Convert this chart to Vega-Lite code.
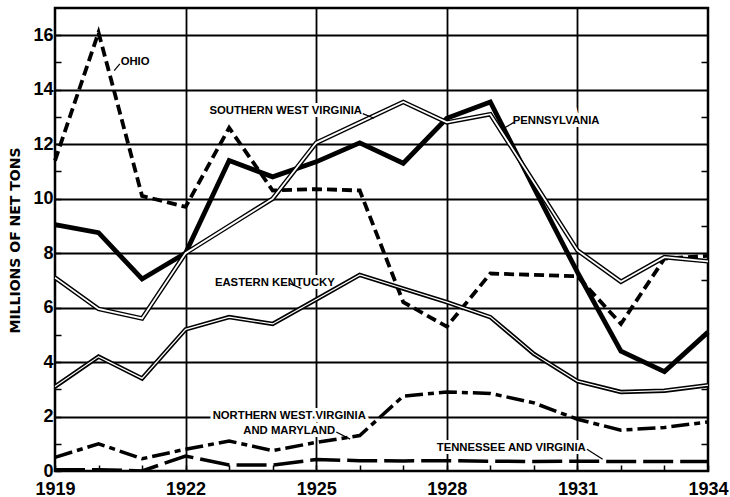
{
  "$schema": "https://vega.github.io/schema/vega-lite/v6.json",
  "width": 653,
  "height": 463,
  "autosize": {"type": "none"},
  "padding": {"left": 55, "top": 8, "right": 22, "bottom": 26},
  "background": "white",
  "config": {
    "view": {"stroke": "black", "strokeWidth": 2.5},
    "axis": {"domain": false, "gridColor": "black", "tickColor": "black", "labelColor": "black"}
  },
  "datasets": {
    "series": [
      {"year": 1919, "value": 11.4, "series": "Ohio"},
      {"year": 1920, "value": 16.1, "series": "Ohio"},
      {"year": 1921, "value": 10.1, "series": "Ohio"},
      {"year": 1922, "value": 9.7, "series": "Ohio"},
      {"year": 1923, "value": 12.6, "series": "Ohio"},
      {"year": 1924, "value": 10.3, "series": "Ohio"},
      {"year": 1925, "value": 10.35, "series": "Ohio"},
      {"year": 1926, "value": 10.3, "series": "Ohio"},
      {"year": 1927, "value": 6.2, "series": "Ohio"},
      {"year": 1928, "value": 5.3, "series": "Ohio"},
      {"year": 1929, "value": 7.25, "series": "Ohio"},
      {"year": 1930, "value": 7.2, "series": "Ohio"},
      {"year": 1931, "value": 7.15, "series": "Ohio"},
      {"year": 1932, "value": 5.4, "series": "Ohio"},
      {"year": 1933, "value": 7.8, "series": "Ohio"},
      {"year": 1934, "value": 7.9, "series": "Ohio"},
      {"year": 1919, "value": 9.05, "series": "Pennsylvania"},
      {"year": 1920, "value": 8.75, "series": "Pennsylvania"},
      {"year": 1921, "value": 7.05, "series": "Pennsylvania"},
      {"year": 1922, "value": 8.0, "series": "Pennsylvania"},
      {"year": 1923, "value": 11.4, "series": "Pennsylvania"},
      {"year": 1924, "value": 10.8, "series": "Pennsylvania"},
      {"year": 1925, "value": 11.35, "series": "Pennsylvania"},
      {"year": 1926, "value": 12.05, "series": "Pennsylvania"},
      {"year": 1927, "value": 11.3, "series": "Pennsylvania"},
      {"year": 1928, "value": 12.95, "series": "Pennsylvania"},
      {"year": 1929, "value": 13.55, "series": "Pennsylvania"},
      {"year": 1930, "value": 10.4, "series": "Pennsylvania"},
      {"year": 1931, "value": 7.3, "series": "Pennsylvania"},
      {"year": 1932, "value": 4.4, "series": "Pennsylvania"},
      {"year": 1933, "value": 3.65, "series": "Pennsylvania"},
      {"year": 1934, "value": 5.1, "series": "Pennsylvania"},
      {"year": 1919, "value": 7.1, "series": "Southern West Virginia"},
      {"year": 1920, "value": 5.95, "series": "Southern West Virginia"},
      {"year": 1921, "value": 5.6, "series": "Southern West Virginia"},
      {"year": 1922, "value": 8.0, "series": "Southern West Virginia"},
      {"year": 1923, "value": 9.0, "series": "Southern West Virginia"},
      {"year": 1924, "value": 10.0, "series": "Southern West Virginia"},
      {"year": 1925, "value": 12.05, "series": "Southern West Virginia"},
      {"year": 1926, "value": 12.8, "series": "Southern West Virginia"},
      {"year": 1927, "value": 13.55, "series": "Southern West Virginia"},
      {"year": 1928, "value": 12.8, "series": "Southern West Virginia"},
      {"year": 1929, "value": 13.1, "series": "Southern West Virginia"},
      {"year": 1930, "value": 10.6, "series": "Southern West Virginia"},
      {"year": 1931, "value": 8.1, "series": "Southern West Virginia"},
      {"year": 1932, "value": 6.95, "series": "Southern West Virginia"},
      {"year": 1933, "value": 7.85, "series": "Southern West Virginia"},
      {"year": 1934, "value": 7.7, "series": "Southern West Virginia"},
      {"year": 1919, "value": 3.1, "series": "Eastern Kentucky"},
      {"year": 1920, "value": 4.2, "series": "Eastern Kentucky"},
      {"year": 1921, "value": 3.4, "series": "Eastern Kentucky"},
      {"year": 1922, "value": 5.2, "series": "Eastern Kentucky"},
      {"year": 1923, "value": 5.65, "series": "Eastern Kentucky"},
      {"year": 1924, "value": 5.4, "series": "Eastern Kentucky"},
      {"year": 1925, "value": 6.3, "series": "Eastern Kentucky"},
      {"year": 1926, "value": 7.2, "series": "Eastern Kentucky"},
      {"year": 1927, "value": 6.7, "series": "Eastern Kentucky"},
      {"year": 1928, "value": 6.2, "series": "Eastern Kentucky"},
      {"year": 1929, "value": 5.65, "series": "Eastern Kentucky"},
      {"year": 1930, "value": 4.3, "series": "Eastern Kentucky"},
      {"year": 1931, "value": 3.3, "series": "Eastern Kentucky"},
      {"year": 1932, "value": 2.9, "series": "Eastern Kentucky"},
      {"year": 1933, "value": 2.95, "series": "Eastern Kentucky"},
      {"year": 1934, "value": 3.15, "series": "Eastern Kentucky"},
      {"year": 1919, "value": 0.5, "series": "Northern West Virginia and Maryland"},
      {"year": 1920, "value": 1.0, "series": "Northern West Virginia and Maryland"},
      {"year": 1921, "value": 0.45, "series": "Northern West Virginia and Maryland"},
      {"year": 1922, "value": 0.8, "series": "Northern West Virginia and Maryland"},
      {"year": 1923, "value": 1.1, "series": "Northern West Virginia and Maryland"},
      {"year": 1924, "value": 0.75, "series": "Northern West Virginia and Maryland"},
      {"year": 1925, "value": 1.05, "series": "Northern West Virginia and Maryland"},
      {"year": 1926, "value": 1.3, "series": "Northern West Virginia and Maryland"},
      {"year": 1927, "value": 2.75, "series": "Northern West Virginia and Maryland"},
      {"year": 1928, "value": 2.9, "series": "Northern West Virginia and Maryland"},
      {"year": 1929, "value": 2.85, "series": "Northern West Virginia and Maryland"},
      {"year": 1930, "value": 2.5, "series": "Northern West Virginia and Maryland"},
      {"year": 1931, "value": 1.9, "series": "Northern West Virginia and Maryland"},
      {"year": 1932, "value": 1.5, "series": "Northern West Virginia and Maryland"},
      {"year": 1933, "value": 1.6, "series": "Northern West Virginia and Maryland"},
      {"year": 1934, "value": 1.8, "series": "Northern West Virginia and Maryland"},
      {"year": 1919, "value": 0.05, "series": "Tennessee and Virginia"},
      {"year": 1920, "value": 0.05, "series": "Tennessee and Virginia"},
      {"year": 1921, "value": 0.0, "series": "Tennessee and Virginia"},
      {"year": 1922, "value": 0.55, "series": "Tennessee and Virginia"},
      {"year": 1923, "value": 0.22, "series": "Tennessee and Virginia"},
      {"year": 1924, "value": 0.22, "series": "Tennessee and Virginia"},
      {"year": 1925, "value": 0.42, "series": "Tennessee and Virginia"},
      {"year": 1926, "value": 0.38, "series": "Tennessee and Virginia"},
      {"year": 1927, "value": 0.37, "series": "Tennessee and Virginia"},
      {"year": 1928, "value": 0.38, "series": "Tennessee and Virginia"},
      {"year": 1929, "value": 0.36, "series": "Tennessee and Virginia"},
      {"year": 1930, "value": 0.35, "series": "Tennessee and Virginia"},
      {"year": 1931, "value": 0.36, "series": "Tennessee and Virginia"},
      {"year": 1932, "value": 0.35, "series": "Tennessee and Virginia"},
      {"year": 1933, "value": 0.35, "series": "Tennessee and Virginia"},
      {"year": 1934, "value": 0.35, "series": "Tennessee and Virginia"}
    ],
    "labels": [
      {"x": 1920.84, "y": 15.0, "text": "OHIO"},
      {"x": 1924.30, "y": 13.2, "text": "SOUTHERN WEST VIRGINIA"},
      {"x": 1930.51, "y": 12.86, "text": "PENNSYLVANIA"},
      {"x": 1924.05, "y": 6.92, "text": "EASTERN KENTUCKY"},
      {"x": 1924.38, "y": 2.01, "text": "NORTHERN WEST VIRGINIA"},
      {"x": 1924.38, "y": 1.47, "text": "AND MARYLAND"},
      {"x": 1929.48, "y": 0.84, "text": "TENNESSEE AND VIRGINIA"}
    ],
    "leaders": [
      {"x": 1920.49, "y": 14.95, "x2": 1920.36, "y2": 14.7},
      {"x": 1926.07, "y": 13.12, "x2": 1926.33, "y2": 12.95},
      {"x": 1929.54, "y": 12.8, "x2": 1929.33, "y2": 12.6},
      {"x": 1924.40, "y": 6.88, "x2": 1924.66, "y2": 6.7},
      {"x": 1925.46, "y": 1.43, "x2": 1925.78, "y2": 1.17},
      {"x": 1931.22, "y": 0.8, "x2": 1931.58, "y2": 0.43}
    ]
  },
  "encoding": {
    "x": {"field": "year", "type": "quantitative"},
    "y": {"field": "value", "type": "quantitative"}
  },
  "layer": [
    {
      "data": {"name": "series"},
      "transform": [{"filter": "datum.series == 'Tennessee and Virginia'"}],
      "mark": {"type": "line", "color": "black", "strokeWidth": 3.5, "strokeDash": [30, 7], "clip": true},
      "encoding": {
        "x": {"field": "year", "type": "quantitative",
          "scale": {"domain": [1919, 1934], "nice": false, "zero": false},
          "axis": {
            "orient": "bottom",
            "values": [1919, 1920, 1921, 1922, 1923, 1924, 1925, 1926, 1927, 1928, 1929, 1930, 1931, 1932, 1933, 1934],
            "format": "d",
            "labelExpr": "(datum.value - 1919) % 3 == 0 ? datum.label : ''",
            "labelFont": "Liberation Sans", "labelFontWeight": "bold", "labelFontSize": 18,
            "labelPadding": 15, "labelFlush": false,
            "tickSize": -6, "tickWidth": 1.5,
            "grid": true, "gridWidth": 1.8,
            "gridOpacity": {"condition": {"test": "datum.value == 1922 || datum.value == 1925 || datum.value == 1928 || datum.value == 1931", "value": 1}, "value": 0},
            "title": null
          }
        },
        "y": {"field": "value", "type": "quantitative",
          "scale": {"domain": [0, 17], "nice": false, "zero": true},
          "axis": {
            "orient": "left",
            "values": [0, 1, 2, 3, 4, 5, 6, 7, 8, 9, 10, 11, 12, 13, 14, 15, 16],
            "labelExpr": "datum.value % 2 == 0 ? datum.label : ''",
            "labelFont": "Liberation Sans", "labelFontWeight": "bold", "labelFontSize": 18,
            "labelPadding": 8, "labelFlush": false,
            "tickSize": -6, "tickWidth": 1.5,
            "grid": true, "gridWidth": 1.8,
            "gridOpacity": {"condition": {"test": "datum.value % 2 == 0 && datum.value > 0", "value": 1}, "value": 0},
            "title": "MILLIONS OF NET TONS",
            "titleFont": "DejaVu Sans", "titleFontWeight": "bold", "titleFontSize": 14,
            "titleAngle": 270, "titleAlign": "center", "titleBaseline": "middle",
            "titleX": -40, "titleY": 232
          }
        }
      }
    },
    {
      "data": {"name": "series"},
      "transform": [{"filter": "datum.series == 'Northern West Virginia and Maryland'"}],
      "mark": {"type": "line", "color": "black", "strokeWidth": 3.5, "strokeDash": [18, 5, 6, 5]},
      "encoding": {
        "y": {"field": "value", "type": "quantitative",
          "axis": {"orient": "right", "values": [1, 3, 5, 7, 9, 11, 13, 15], "labels": false, "grid": false, "ticks": true, "tickSize": -7, "tickWidth": 1.5, "tickColor": "black", "title": null}
        }
      }
    },
    {
      "data": {"name": "labels"},
      "mark": {"type": "text", "font": "Liberation Sans", "fontWeight": "bold", "fontSize": 11.3, "color": "white", "stroke": "white", "strokeWidth": 6, "baseline": "middle", "align": "center"},
      "encoding": {
        "x": {"field": "x", "type": "quantitative"},
        "y": {"field": "y", "type": "quantitative", "axis": null},
        "text": {"field": "text"}
      }
    },
    {
      "data": {"name": "series"},
      "transform": [{"filter": "datum.series == 'Ohio'"}],
      "mark": {"type": "line", "color": "black", "strokeWidth": 3.8, "strokeDash": [10, 5]},
      "encoding": {"y": {"field": "value", "type": "quantitative", "axis": null}}
    },
    {
      "data": {"name": "series"},
      "transform": [{"filter": "datum.series == 'Eastern Kentucky'"}],
      "mark": {"type": "line", "color": "black", "strokeWidth": 4.5},
      "encoding": {"y": {"field": "value", "type": "quantitative", "axis": null}}
    },
    {
      "data": {"name": "series"},
      "transform": [{"filter": "datum.series == 'Eastern Kentucky'"}],
      "mark": {"type": "line", "color": "white", "strokeWidth": 1.2},
      "encoding": {"y": {"field": "value", "type": "quantitative", "axis": null}}
    },
    {
      "data": {"name": "series"},
      "transform": [{"filter": "datum.series == 'Pennsylvania'"}],
      "mark": {"type": "line", "color": "black", "strokeWidth": 4.8},
      "encoding": {"y": {"field": "value", "type": "quantitative", "axis": null}}
    },
    {
      "data": {"name": "series"},
      "transform": [{"filter": "datum.series == 'Southern West Virginia'"}],
      "mark": {"type": "line", "color": "black", "strokeWidth": 4.6},
      "encoding": {"y": {"field": "value", "type": "quantitative", "axis": null}}
    },
    {
      "data": {"name": "series"},
      "transform": [{"filter": "datum.series == 'Southern West Virginia'"}],
      "mark": {"type": "line", "color": "white", "strokeWidth": 1.8},
      "encoding": {"y": {"field": "value", "type": "quantitative", "axis": null}}
    },
    {
      "data": {"name": "leaders"},
      "mark": {"type": "rule", "color": "black", "strokeWidth": 1.2},
      "encoding": {
        "x": {"field": "x", "type": "quantitative"},
        "y": {"field": "y", "type": "quantitative", "axis": null},
        "x2": {"field": "x2"},
        "y2": {"field": "y2"}
      }
    },
    {
      "data": {"name": "labels"},
      "mark": {"type": "text", "font": "Liberation Sans", "fontWeight": "bold", "fontSize": 11.3, "color": "black", "baseline": "middle", "align": "center"},
      "encoding": {
        "x": {"field": "x", "type": "quantitative"},
        "y": {"field": "y", "type": "quantitative", "axis": null},
        "text": {"field": "text"}
      }
    }
  ],
  "resolve": {"axis": {"y": "independent"}}
}
